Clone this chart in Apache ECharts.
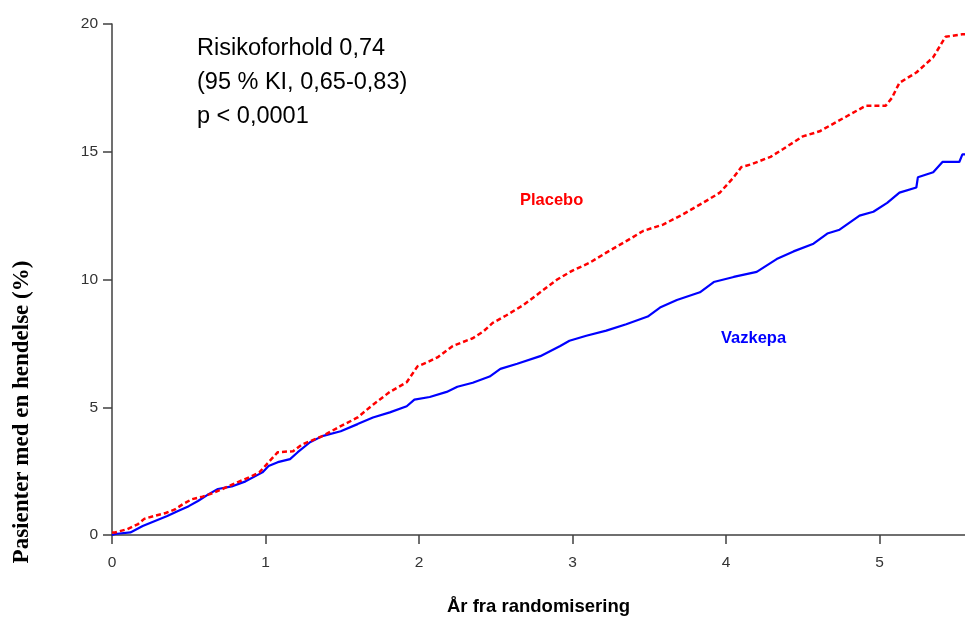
<!DOCTYPE html>
<html>
<head>
<meta charset="utf-8">
<script src="https://cdn.jsdelivr.net/npm/echarts@6/dist/echarts.min.js"></script>
<style>
  html, body { margin: 0; padding: 0; background: #fff; }
  #chart { width: 965px; height: 621px; }
</style>
</head>
<body>
<div id="chart"></div>
<script>
// Kaplan-Meier kurver lest av figuren (år, %)
var placeboYears = [0, 0.02, 0.10, 0.17, 0.21, 0.27, 0.35, 0.41, 0.46, 0.52, 0.59, 0.67, 0.72, 0.82, 0.91, 0.96,
  1.02, 1.08, 1.18, 1.24, 1.29, 1.37, 1.49, 1.60, 1.70, 1.81, 1.92, 1.99, 2.05, 2.12, 2.22, 2.35, 2.42, 2.48,
  2.57, 2.68, 2.79, 2.90, 3.00, 3.11, 3.22, 3.35, 3.46, 3.59, 3.72, 3.85, 3.96, 4.05, 4.10, 4.16, 4.29, 4.37,
  4.50, 4.61, 4.79, 4.91, 5.04, 5.08, 5.13, 5.24, 5.35, 5.39, 5.43, 5.54, 5.557];
var placeboPct = [0.1, 0.1, 0.23, 0.43, 0.63, 0.74, 0.86, 1.0, 1.2, 1.4, 1.5, 1.67, 1.8, 2.07, 2.3, 2.45,
  2.85, 3.24, 3.28, 3.55, 3.67, 3.87, 4.26, 4.6, 5.1, 5.6, 5.98, 6.6, 6.75, 6.95, 7.4, 7.7, 7.97, 8.3,
  8.6, 9.0, 9.5, 10.0, 10.35, 10.65, 11.05, 11.5, 11.9, 12.15, 12.55, 13.0, 13.4, 14.0, 14.4, 14.5, 14.8, 15.1,
  15.6, 15.8, 16.4, 16.8, 16.8, 17.1, 17.7, 18.1, 18.7, 19.1, 19.5, 19.6, 19.6];

var vazkepaYears = [0, 0.02, 0.12, 0.20, 0.28, 0.36, 0.43, 0.50, 0.56, 0.63, 0.69, 0.78, 0.87, 0.98,
  1.02, 1.08, 1.16, 1.21, 1.29, 1.37, 1.49, 1.60, 1.70, 1.81, 1.92, 1.97, 2.07, 2.18, 2.25, 2.35, 2.46,
  2.53, 2.64, 2.79, 2.92, 2.98, 3.09, 3.22, 3.35, 3.49, 3.57, 3.68, 3.83, 3.92, 4.05, 4.20, 4.33, 4.44,
  4.57, 4.66, 4.74, 4.87, 4.96, 5.05, 5.13, 5.24, 5.25, 5.35, 5.41, 5.52, 5.54, 5.557];
var vazkepaPct = [0, 0.04, 0.1, 0.35, 0.55, 0.74, 0.94, 1.13, 1.33, 1.6, 1.8, 1.9, 2.1, 2.45,
  2.7, 2.85, 2.97, 3.24, 3.63, 3.87, 4.06, 4.34, 4.6, 4.8, 5.04, 5.3, 5.4, 5.6, 5.8, 5.96, 6.2,
  6.5, 6.7, 7.0, 7.4, 7.6, 7.8, 8.0, 8.25, 8.55, 8.9, 9.2, 9.5, 9.9, 10.1, 10.3, 10.8, 11.1,
  11.4, 11.8, 11.95, 12.5, 12.65, 13.0, 13.4, 13.6, 14.0, 14.2, 14.6, 14.6, 14.9, 14.9];

var xTicks = [0, 1, 2, 3, 4, 5];
var yTicks = [0, 5, 10, 15, 20];
var statLines = ['Risikoforhold 0,74', '(95 % KI, 0,65-0,83)', 'p < 0,0001'];

function pairs(xs, ys) {
  return xs.map(function (x, i) { return [x, ys[i]]; });
}

var myChart = echarts.init(document.getElementById('chart'));
var axisColor = '#404040';
var option = {
  backgroundColor: '#fff',
  animation: false,
  grid: { left: 112, right: 0, top: 24, bottom: 85 },
  xAxis: {
    type: 'value',
    min: 0,
    max: 5.557,
    name: 'År fra randomisering',
    nameLocation: 'middle',
    nameGap: 62,
    nameTextStyle: { fontFamily: 'Liberation Sans', fontWeight: 'bold', fontSize: 18.5, color: '#000' },
    splitLine: { show: false },
    axisLine: { lineStyle: { color: axisColor, width: 1.5 } },
    axisTick: { length: 9, customValues: xTicks, lineStyle: { color: axisColor, width: 1.5 } },
    axisLabel: { customValues: xTicks, margin: 20, fontFamily: 'Liberation Sans', fontSize: 15.5, color: '#333' }
  },
  yAxis: {
    type: 'value',
    min: 0,
    max: 20,
    splitLine: { show: false },
    axisLine: { show: true, lineStyle: { color: axisColor, width: 1.5 } },
    axisTick: { show: true, length: 9, customValues: yTicks, lineStyle: { color: axisColor, width: 1.5 } },
    axisLabel: { customValues: yTicks, margin: 14, fontFamily: 'Liberation Sans', fontSize: 15.5, color: '#333' }
  },
  series: [
    {
      name: 'Vazkepa',
      type: 'line',
      data: pairs(vazkepaYears, vazkepaPct),
      showSymbol: false,
      lineStyle: { color: '#0000ff', width: 2.2 },
      z: 2
    },
    {
      name: 'Placebo',
      type: 'line',
      data: pairs(placeboYears, placeboPct),
      showSymbol: false,
      lineStyle: { color: '#ff0000', width: 2.5, type: [5, 3] },
      z: 3
    }
  ],
  graphic: [
    {
      type: 'text', x: 22, y: 412, rotation: Math.PI / 2,
      style: {
        text: 'Pasienter med en hendelse (%)', font: 'bold 23px "Liberation Serif"', fill: '#000',
        textAlign: 'center', textVerticalAlign: 'middle'
      }
    },
    {
      type: 'text', left: 197, top: 32,
      style: { text: statLines.join('\n'), lineHeight: 34, font: '23.5px "Liberation Sans"', fill: '#000' }
    },
    {
      type: 'text', left: 520, top: 192,
      style: { text: 'Placebo', font: 'bold 16.5px "Liberation Sans"', fill: '#ff0000' }
    },
    {
      type: 'text', left: 721, top: 330,
      style: { text: 'Vazkepa', font: 'bold 16.5px "Liberation Sans"', fill: '#0000ff' }
    }
  ]
};
option && myChart.setOption(option);
</script>
</body>
</html>
